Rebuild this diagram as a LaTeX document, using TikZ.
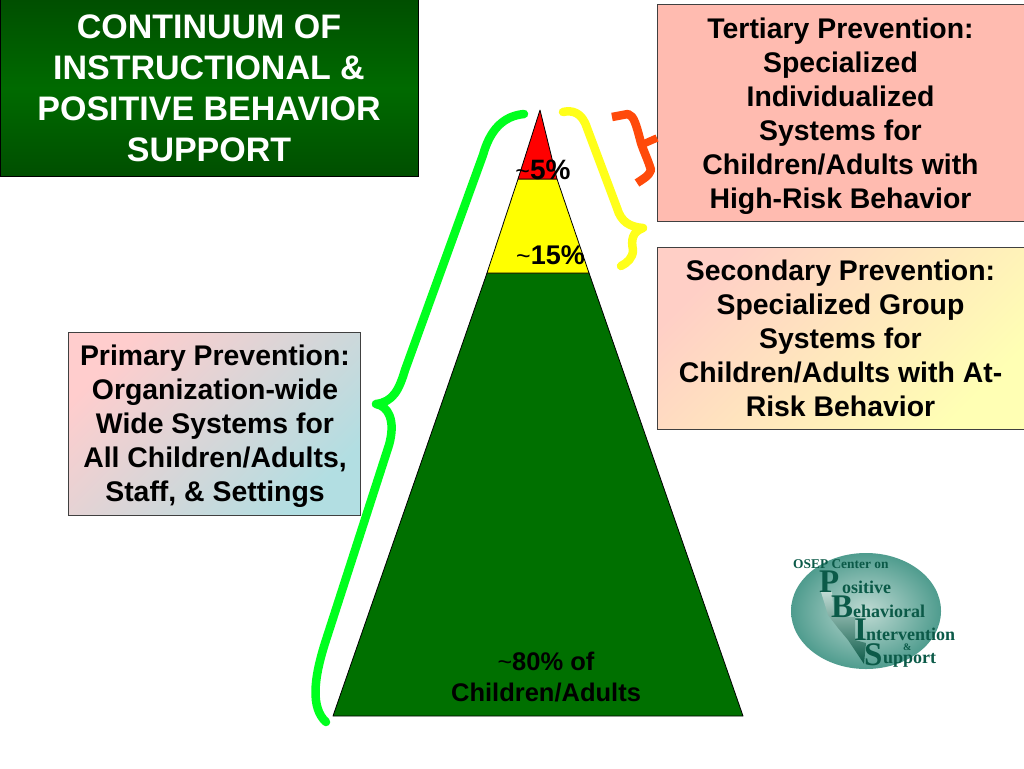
\documentclass[tikz,border=0pt]{standalone}
\usepackage{fontspec}
\setmainfont{Liberation Sans}
\newfontfamily\logofont{Liberation Serif}
\definecolor{pyrgreen}{HTML}{007000}
\definecolor{pyryellow}{HTML}{FFFF00}
\definecolor{pyrred}{HTML}{FF0000}
\definecolor{brgreen}{HTML}{00FF1E}
\definecolor{bryellow}{HTML}{FFFF1A}
\definecolor{brorange}{HTML}{FF4A0A}
\definecolor{logodark}{HTML}{0B5A48}
\definecolor{titledark}{HTML}{004F00}
\definecolor{titlemid}{HTML}{006A00}
\definecolor{logolight}{HTML}{BFDAD3}
\definecolor{logoedge}{HTML}{4F9C8E}
\definecolor{tertfill}{HTML}{FFBBB0}
\definecolor{secA}{HTML}{FFCFC6}
\definecolor{secB}{HTML}{FFFFB4}
\definecolor{primA}{HTML}{FFCDCD}
\definecolor{primB}{HTML}{B2DEE2}
\tikzset{
  panel/.style={draw=black!75!white,line width=1pt},
  paneltext/.style={align=center,font=\fontsize{28.4}{34}\selectfont\bfseries,text=black,inner sep=0pt},
  pct/.style={align=center,font=\fontsize{25.5}{31}\selectfont\bfseries,text=black,inner sep=0pt},
  level/.style={draw=black,line width=0.8pt,line join=round},
  bracket/.style={line width=8.5pt,line cap=round,line join=round},
  logotxt/.style={font=\logofont\bfseries\fontsize{18}{18}\selectfont,text=logodark,inner sep=0pt,anchor=base west},
  logobig/.style={font=\logofont\bfseries\fontsize{33}{33}\selectfont,text=logodark,inner sep=0pt,anchor=base west},
}
\newcommand{\tld}{{\fontsize{25}{25}\mdseries\selectfont\textasciitilde}}
\begin{document}
\begin{tikzpicture}[x=1pt,y=-1pt]
\useasboundingbox (0,0) rectangle (1024,768);
\fill[white] (0,0) rectangle (1024,768);
% title
\shade[top color=titledark,bottom color=titledark,middle color=titlemid] (0,0) rectangle (418,176);
\draw[panel,draw=black] (0,0) rectangle (418,176);
\node[align=center,font=\fontsize{34}{41}\selectfont\bfseries,text=white,inner sep=0pt] (title) at (209,88.5) {CONTINUUM OF\\INSTRUCTIONAL \&\\POSITIVE BEHAVIOR\\SUPPORT};
% right boxes
\fill[panel,fill=tertfill] (657,5) rectangle (1024,221);
\node[paneltext] (tert) at (840.5,116.5) {Tertiary Prevention:\\Specialized\\Individualized\\Systems for\\Children/Adults with\\High-Risk Behavior};
\shade[top color=secA,bottom color=secB,shading angle=45] (657,247) rectangle (1024,429);
\draw[panel] (657,247) rectangle (1024,429);
\node[paneltext] (sec) at (840.5,338) {Secondary Prevention:\\Specialized Group\\Systems for\\Children/Adults with At-\\Risk Behavior};
% left box
\shade[top color=primA,bottom color=primB,shading angle=45] (68,332) rectangle (360,515);
\draw[panel] (68,332) rectangle (360,515);
\node[paneltext] (prim) at (215,426) {Primary Prevention:\\Organization-wide\\Wide Systems for\\All Children/Adults,\\Staff, \& Settings};
% pyramid
\filldraw[level,fill=pyrgreen] (487,273) -- (589,273) -- (743,716) -- (333,716) -- cycle;
\filldraw[level,fill=pyryellow] (518,179) -- (557,179) -- (589,273) -- (487,273) -- cycle;
\filldraw[level,fill=pyrred] (540,110) -- (557,179) -- (518,179) -- cycle;
\node[pct,font=\fontsize{28}{31}\selectfont\bfseries] (p5) at (543,169.5) {\tld 5\%};
\node[pct,font=\fontsize{27}{31}\selectfont\bfseries] (p15) at (550.5,255) {\tld 15\%};
\node[pct] (p80) at (546,677) {\tld 80\% of\\Children/Adults};
% brackets
\draw[bracket,brgreen] (524,114) .. controls (503,116) and (490,130) .. (483,155)
  -- (405,370) .. controls (399,390) and (393,402) .. (376,404)
  .. controls (388,406) and (396,420) .. (389,445)
  -- (326,640) .. controls (313,680) and (311,708) .. (326,722);
\draw[bracket,bryellow] (563,112) .. controls (572,110) and (582,112) .. (587,128)
  -- (617,208) .. controls (621,222) and (630,227) .. (643,228)
  .. controls (632,232) and (631,240) .. (633,250)
  .. controls (633,258) and (627,263) .. (621,266);
\draw[bracket,brorange,line cap=butt] (612,117) -- (628,114) .. controls (634,116) and (636,124) .. (641,143)
  .. controls (644,152) and (648,160) .. (651,170) .. controls (649,176) and (643,179) .. (637,183);
\draw[brorange,line width=7.5pt] (641,145) -- (657,138);
% logo
\shade[shading=radial,inner color=logolight,outer color=logoedge] (866,611) ellipse [x radius=75,y radius=58];
\shade[top color=logolight,bottom color=logodark] (821,592) -- (832,592) -- (834,617) -- (855,617) -- (855,640) -- (866,643) -- (864,664) -- (848,640) -- (838,628) -- (828,615) -- cycle;
\node[logotxt,font=\logofont\bfseries\fontsize{13.4}{13}\selectfont] (l1) at (793,568) {OSEP Center on};
\node[logobig] (lP) at (819,592) {P};
\node[logotxt] (l2) at (842,593) {ositive};
\node[logobig] (lB) at (831,617) {B};
\node[logotxt] (l3) at (853,617) {ehavioral};
\node[logobig] (lI) at (854,640) {I};
\node[logotxt] (l4) at (866,640) {ntervention};
\node[logotxt,font=\logofont\bfseries\fontsize{10}{10}\selectfont] (l5) at (903,650.5) {\&};
\node[logobig] (lS) at (864,665) {S};
\node[logotxt] (l6) at (883,663) {upport};
\end{tikzpicture}
\end{document}
